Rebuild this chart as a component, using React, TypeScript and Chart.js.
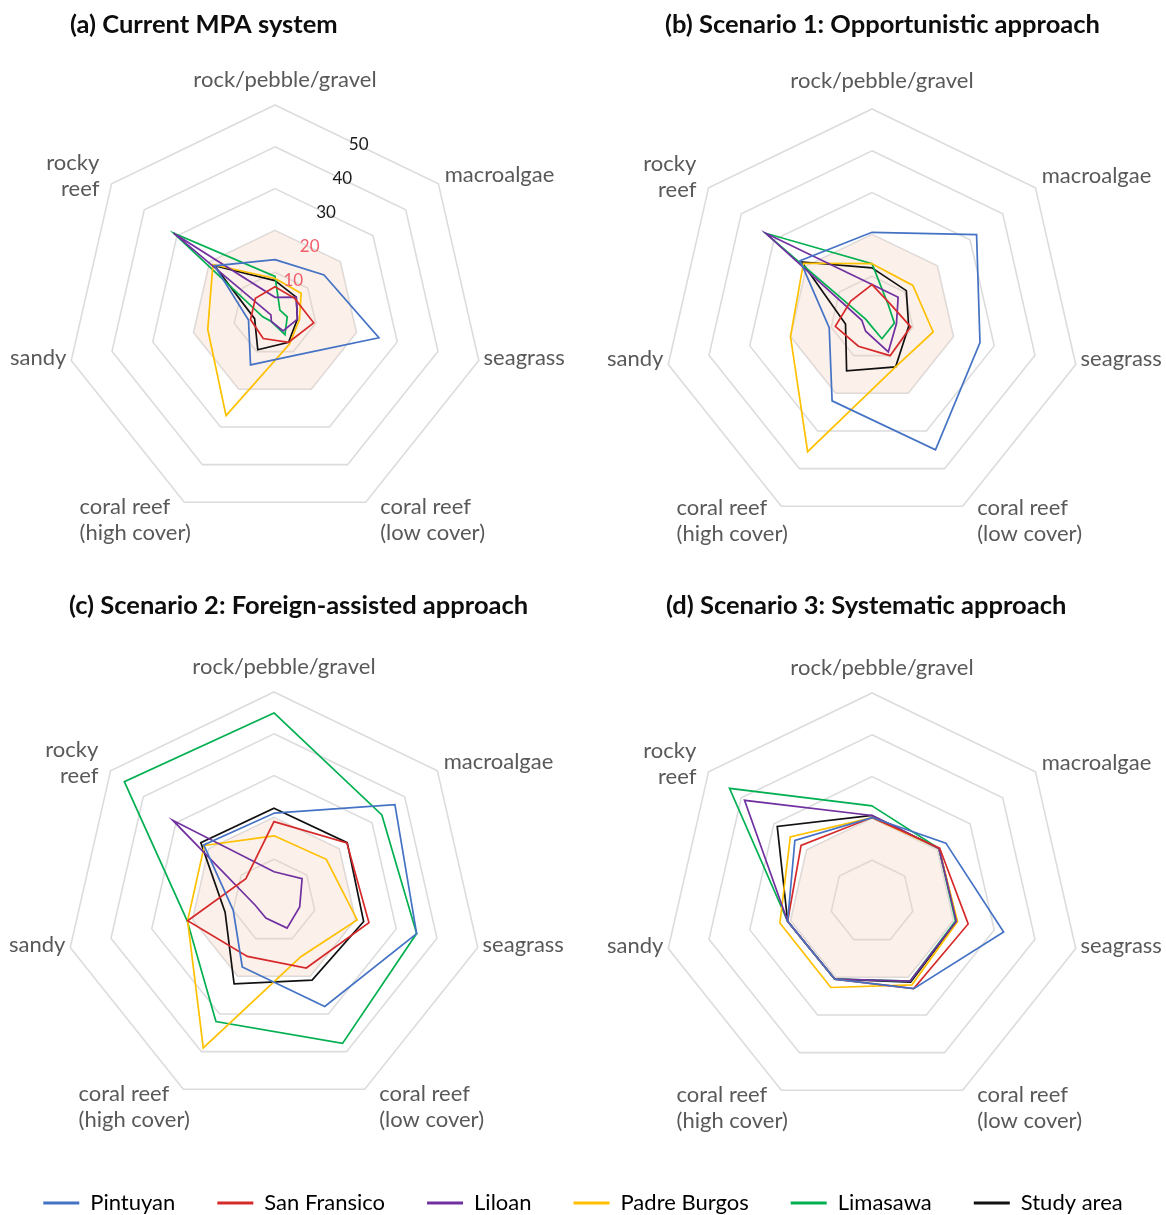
import React, { useEffect, useRef } from "react";
import { Chart, registerables } from "chart.js";

Chart.register(...registerables);

// Habitat axes, clockwise from the top (multi-line names are split into rows).
const HABITATS: string[][] = [
  ["rock/pebble/gravel"],
  ["macroalgae"],
  ["seagrass"],
  ["coral reef", "(low cover)"],
  ["coral reef", "(high cover)"],
  ["sandy"],
  ["rocky", "reef"],
];

const SITES = ["Pintuyan", "San Fransico", "Liloan", "Padre Burgos", "Limasawa", "Study area"];
const SITE_COLORS = ["#4472C4", "#D62A2A", "#7030A0", "#FFC000", "#00B050", "#111111"];

// Share of each habitat protected (%), one row per site in SITES order,
// columns in HABITATS order.
const currentMpaSystem = [
  [13, 15, 25.5, 11, 13.5, 6.5, 18.5],
  [6.5, 6, 9.5, 7.5, 6.5, 6, 6],
  [4, 6.5, 5.5, 4.5, 2, 1, 31],
  [8.5, 8, 6, 8, 27, 16.5, 19],
  [9, 1.5, 3, 5.5, 2, 3, 31],
  [8, 6.5, 5.5, 7.5, 9.5, 5, 18.5],
];

const opportunisticApproach = [
  [20.5, 32, 26.5, 35, 22, 10.5, 22],
  [8, 5.5, 9.5, 10, 7.5, 9, 6.5],
  [8, 8, 6, 9, 3.5, 2.5, 32.5],
  [13, 12.5, 15, 13, 35.5, 20, 21],
  [13, 5, 5.5, 5.5, 1.5, 1.5, 32.5],
  [12, 10.5, 9, 13, 14, 6.5, 21.5],
];

const foreignAssistedApproach = [
  [21, 37, 35, 28, 17.5, 10, 21.5],
  [19, 22.3, 23.3, 17.8, 14.7, 21.2, 8.6],
  [7, 8.6, 6.3, 7.2, 4.5, 4.6, 31],
  [15.6, 16, 20.4, 14.8, 39, 21.2, 21.3],
  [45, 33, 35, 37.8, 32, 21.3, 45.8],
  [22.2, 22.4, 22, 21, 22, 12, 22.4],
];

const systematicApproach = [
  [20.2, 22.6, 32.3, 23, 20.5, 20.7, 23.6],
  [20.2, 20.7, 23.6, 23, 20.5, 20.7, 21.7],
  [20.7, 20.5, 20.7, 21, 20.5, 20.7, 39],
  [20.2, 20.5, 21, 22, 22.7, 22.6, 25],
  [23, 20.5, 20.5, 21, 20.5, 20.7, 43.6],
  [20.7, 20.5, 20.8, 21.3, 20.5, 20.7, 29],
];

// 20% protection target, shaded in every panel.
const TARGET = [20, 20, 20, 20, 20, 20, 20];
const TARGET_LEVEL = 20;

const PANEL_TITLES = [
  "(a) Current MPA system",
  "(b) Scenario 1: Opportunistic approach",
  "(c) Scenario 2: Foreign-assisted approach",
  "(d) Scenario 3: Systematic approach",
];
const PANEL_VALUES = [currentMpaSystem, opportunisticApproach, foreignAssistedApproach, systematicApproach];

const SCALE_MAX = 50;
const SCALE_STEP = 10;

// ---- layout & styling ----
const WIDTH = 1166;
const HEIGHT = 1215;
const RADIUS = 209;
const PANEL_LAYOUT = [
  { cx: 275, cy: 314, titleX: 70, titleY: 25, labelDy: 0, showTicks: true },
  { cx: 872, cy: 318, titleX: 665, titleY: 25, labelDy: -3, showTicks: false },
  { cx: 274, cy: 901, titleX: 69, titleY: 606, labelDy: 0, showTicks: false },
  { cx: 872, cy: 902, titleX: 666, titleY: 606, labelDy: 0, showTicks: false },
];

const FONT_FAMILY = "Lato, 'Noto Sans', sans-serif";
const TITLE_FONT = `bold 25.5px ${FONT_FAMILY}`;
const LABEL_FONT = `22px ${FONT_FAMILY}`;
const TICK_FONT = `17px ${FONT_FAMILY}`;
const LABEL_COLOR = "#595959";
const LABEL_LINE = 26;
const LABEL_GAP = 8;
const TICK_COLOR = "#1a1a1a";
const TICK_TARGET_COLOR = "#F0606A";
const GRID_COLOR = "#DCDCDC";
const TARGET_FILL = "rgba(244, 204, 190, 0.3)";

// Placement of each habitat name around its axis end.
const LABEL_PLACEMENT = [
  { dx: 10, dy: -17, side: "center", align: "center" },
  { dx: 0, dy: -4, side: "right", align: "left" },
  { dx: -3, dy: -4, side: "right", align: "left" },
  { dx: 11, dy: 10.5, side: "right", align: "left" },
  { dx: 10, dy: 10.5, side: "left", align: "left" },
  { dx: 3, dy: -4, side: "left", align: "right" },
  { dx: -6, dy: -3, side: "left", align: "right" },
];

const panelDecor = {
  id: "panelDecor",
  afterDraw(chart: any) {
    const ctx = chart.ctx as CanvasRenderingContext2D;
    ctx.save();
    PANEL_LAYOUT.forEach((panel, p) => {
      const scale = chart.scales["r" + p];
      if (!scale) return;

      // panel title
      ctx.font = TITLE_FONT;
      ctx.fillStyle = "#0d0d0d";
      ctx.textAlign = "left";
      ctx.textBaseline = "middle";
      ctx.fillText(PANEL_TITLES[p], panel.titleX, panel.titleY);

      // habitat names
      const labels = scale.getLabels() as string[][];
      ctx.font = LABEL_FONT;
      ctx.fillStyle = LABEL_COLOR;
      labels.forEach((lines, i) => {
        const place = LABEL_PLACEMENT[i];
        const widths = lines.map((l) => ctx.measureText(l).width);
        const bw = Math.max(...widths);
        const anchor = scale.getPointPosition(i, scale.drawingArea + LABEL_GAP);
        const ax = anchor.x + place.dx;
        const left = place.side === "center" ? ax - bw / 2 : place.side === "right" ? ax : ax - bw;
        const y0 = anchor.y + place.dy + panel.labelDy - (lines.length * LABEL_LINE) / 2 + LABEL_LINE / 2;
        lines.forEach((line, j) => {
          const w = widths[j];
          const x = place.align === "left" ? left : place.align === "right" ? left + bw - w : left + (bw - w) / 2;
          ctx.fillText(line, x, y0 + j * LABEL_LINE);
        });
      });

      // value ticks, set along the bisector of the first two axes
      if (panel.showTicks) {
        ctx.font = TICK_FONT;
        ctx.textAlign = "center";
        const half = Math.PI / labels.length;
        const angle = scale.getIndexAngle(0) - Math.PI / 2 + half;
        scale.ticks.forEach((tick: any) => {
          if (tick.value <= 0) return;
          const d = scale.getDistanceFromCenterForValue(tick.value) * Math.cos(half);
          ctx.fillStyle = tick.value <= TARGET_LEVEL ? TICK_TARGET_COLOR : TICK_COLOR;
          ctx.fillText(String(tick.label), scale.xCenter + Math.cos(angle) * d + 2, scale.yCenter + Math.sin(angle) * d);
        });
      }
    });
    ctx.restore();
  },
};

export default function App() {
  const canvasRef = useRef<HTMLCanvasElement | null>(null);

  useEffect(() => {
    const canvas = canvasRef.current;
    if (!canvas) return;

    const scales: Record<string, any> = {};
    const datasets: any[] = [];

    PANEL_LAYOUT.forEach((panel, p) => {
      const id = "r" + p;
      scales[id] = {
        type: "radialLinear",
        axis: "r",
        min: 0,
        max: SCALE_MAX,
        ticks: { display: false, stepSize: SCALE_STEP },
        grid: { color: GRID_COLOR, lineWidth: 1.6 },
        angleLines: { display: false },
        pointLabels: { display: false },
        afterFit: (scale: any) => {
          scale.xCenter = panel.cx;
          scale.yCenter = panel.cy;
          scale.drawingArea = RADIUS;
        },
      };

      PANEL_VALUES[p].forEach((values, s) => {
        datasets.push({
          label: SITES[s],
          data: values,
          rAxisID: id,
          borderColor: SITE_COLORS[s],
          backgroundColor: SITE_COLORS[s],
          borderWidth: 1.7,
          pointRadius: 0,
          pointHoverRadius: 0,
          fill: false,
          order: 1,
        });
      });

      datasets.push({
        label: "20% target",
        data: TARGET,
        rAxisID: id,
        borderWidth: 0,
        borderColor: "rgba(0,0,0,0)",
        backgroundColor: TARGET_FILL,
        pointRadius: 0,
        pointHoverRadius: 0,
        fill: "origin",
        order: 2,
      });
    });

    const chart = new Chart(canvas, {
      type: "radar",
      data: { labels: HABITATS as any, datasets },
      options: {
        responsive: false,
        animation: false,
        devicePixelRatio: 1,
        events: [],
        layout: { padding: { bottom: -9 } },
        plugins: {
          tooltip: { enabled: false },
          title: { display: false },
          legend: {
            display: true,
            position: "bottom",
            labels: {
              boxWidth: 36,
              boxHeight: 3,
              padding: 42,
              color: "#333333",
              font: { family: FONT_FAMILY, size: 22 },
              generateLabels: () =>
                SITES.map((site, i) => ({
                  text: site,
                  fillStyle: SITE_COLORS[i],
                  strokeStyle: SITE_COLORS[i],
                  lineWidth: 0,
                  hidden: false,
                  datasetIndex: i,
                })),
            },
          },
        },
        scales,
      } as any,
      plugins: [panelDecor],
    });

    return () => chart.destroy();
  }, []);

  return (
    <div style={{ position: "absolute", left: 0, top: 0, width: WIDTH, height: HEIGHT, background: "#fff" }}>
      <canvas ref={canvasRef} width={WIDTH} height={HEIGHT} style={{ display: "block" }} />
    </div>
  );
}
